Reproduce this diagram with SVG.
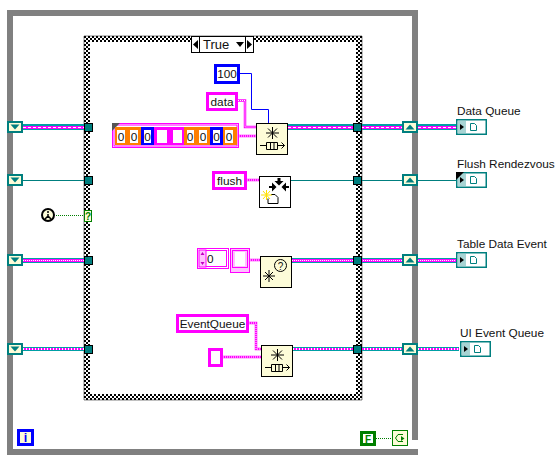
<svg xmlns="http://www.w3.org/2000/svg" width="557" height="465" viewBox="0 0 557 465">
<style>
text{font-family:"Liberation Sans",Arial,sans-serif;fill:#111}
.lab{font-size:11.8px}
.c{font-size:11.8px;text-anchor:middle}
.tc{fill:#007f7f}
.sr{fill:#fdfcd8}
.tri{fill:#007f7f}
.pc{fill:#fff;stroke:#ff00ff;stroke-width:3}
.blue{fill:#fff;stroke:#0000ff;stroke-width:3}
.node{fill:#fdfcd8;stroke:#000;stroke-width:1}
.ln{fill:none;stroke:#000;stroke-width:1}
.pd{fill:none;stroke:#ff00ff;stroke-width:2.5}
.pdw{fill:none;stroke:#fff;stroke-width:1;stroke-dasharray:1 1}
.ind{fill:#fff;stroke:#007f7f;stroke-width:1.5}
.wt{fill:none;stroke:#00a0a5}
.wp{fill:none;stroke:#ff00ff}
.ww{fill:none;stroke:#fff}
</style>
<defs>
<pattern id="chk" width="4" height="4" patternUnits="userSpaceOnUse">
<rect width="4" height="4" fill="#fff"/>
<rect width="2" height="2" fill="#000"/>
<rect x="2" y="2" width="2" height="2" fill="#000"/>
</pattern>
<g id="srin"><rect width="16" height="12" class="tc"/><rect x="2" y="2" width="12" height="8" class="sr"/><path d="M3.500 3.500h9l-4.500 5z" class="tri"/></g>
<g id="srout"><rect width="16" height="12" class="tc"/><rect x="2" y="2" width="12" height="8" class="sr"/><path d="M3.500 8.500h9l-4.500-5z" class="tri"/></g>
<g id="tun"><rect x="0.500" y="0.500" width="8" height="8" fill="#007f7f" stroke="#000"/></g>
<g id="ic"><rect x="0.750" y="0.750" width="29.500" height="14.500" class="ind"/><rect x="2" y="2" width="8" height="12" fill="#a8d4d4"/><path d="M4 5l4 3-4 3z" fill="#000"/><path d="M14.500 4.500h4l2 2v5h-6z" fill="#fff" stroke="#007f7f"/></g>
<g id="enq"><path d="M16.500 4v12M10 10h13M12 5.500l9 9M21 5.500l-9 9" stroke="#000" fill="none"/><path d="M4 22.500h6.500M10.500 19.500h11v7h-11zM14.500 19.500v7M18 19.500v7M21.500 22.500h7M25.500 19.500l3 3-3 3" class="ln"/></g>
</defs>

<g id="while-loop">
<path d="M10 13H418M10 10V452H418M415 10V440" fill="none" stroke="#808080" stroke-width="6"/>
<rect x="412" y="444" width="7" height="5" fill="#fff"/>
</g>
<g id="case-structure">
<path d="M87 39H359V397H87Z" fill="none" stroke="url(#chk)" stroke-width="6"/>
<path d="M84 36H362V400H84Z" fill="none" stroke="#000" stroke-width="0.500"/>
</g>
<g id="selector">
<rect x="191.500" y="36.500" width="62" height="16" fill="#fff" stroke="#000"/>
<path d="M199.500 36.500v16M245.500 36.500v16" stroke="#000"/>
<path d="M198 40v9l-5-4.500zM247 40v9l5-4.500zM236 42h8l-4 5z" fill="#000"/>
<text x="203" y="49" style="font-size:13px">True</text>
</g>

<g id="connectors">
<path d="M23 127H84M288 127H402M418 127H456" class="wt" stroke-width="6"/>
<path d="M23 127.500H84M288 127.500H353M361 127.500H402M418 127.500H456" class="wp" stroke-width="3"/>
<path d="M23 127.500H84M288 127.500H353M361 127.500H402M418 127.500H456" class="ww" stroke-width="1" stroke-dasharray="3 2"/>
<path d="M23 180.500H84M291 180.500H353M361 180.500H402M418 180.500H456" stroke="#007f7f" stroke-width="1" fill="none"/>
<path d="M23 260.500H84M292 260.500H353M361 260.500H402M418 260.500H456" class="wt" stroke-width="5"/>
<path d="M23 260.500H84M292 260.500H353M361 260.500H402M418 260.500H456" class="wp" stroke-width="3"/>
<path d="M23 260.500H84M292 260.500H353M361 260.500H402M418 260.500H456" class="ww" stroke-width="1" stroke-dasharray="1 1"/>
<path d="M23 349H84M293 349H353M361 349H402M418 349H459" class="wt" stroke-width="4"/>
<path d="M23 349H84M293 349H353M361 349H402M418 349H459" class="wp" stroke-width="2"/>
<path d="M23 349H84M293 349H353M361 349H402M418 349H459" class="ww" stroke-width="2" stroke-dasharray="1 2"/>
<path d="M239 73.500H251.500V109.500H268.500V123" stroke="#0000ff" fill="none"/>
<path d="M238 100.500H245V127H256" class="pd"/><path d="M238 100.500H245V127H256" class="pdw"/>
<path d="M239 136H256" class="pd"/><path d="M239 136H256" class="pdw"/>
<path d="M247 180H259" class="pd"/><path d="M247 180H259" class="pdw"/>
<path d="M250 260H260" class="pd"/><path d="M250 260H260" class="pdw"/>
<path d="M249 323H256V349H261" class="pd"/><path d="M249 323H256V349H261" class="pdw"/>
<path d="M223 357H261" class="pd"/><path d="M223 357H261" class="pdw"/>
<path d="M56 215.500H84M376 438.500H392" stroke="#007f00" stroke-dasharray="1 1" fill="none"/>
</g>

<g id="sr-left"><use href="#srin" x="7" y="121"/><use href="#srin" x="7" y="174"/><use href="#srin" x="7" y="254"/><use href="#srin" x="7" y="343"/></g>
<g id="sr-right"><use href="#srout" x="402" y="121"/><use href="#srout" x="402" y="174"/><use href="#srout" x="402" y="254"/><use href="#srout" x="402" y="343"/></g>
<g id="tunnels">
<use href="#tun" x="84" y="123"/><use href="#tun" x="84" y="176"/><use href="#tun" x="84" y="256"/><use href="#tun" x="84" y="345"/>
<use href="#tun" x="353" y="123"/><use href="#tun" x="353" y="176"/><use href="#tun" x="353" y="256"/><use href="#tun" x="353" y="345"/>
</g>

<g id="error-icon"><circle cx="48" cy="215" r="6" fill="#fdfcd8" stroke="#000" stroke-width="2"/><path d="M48 211v2M48 214v2M45 219l3-3 3 3" stroke="#000" stroke-width="1.500" fill="none"/></g>
<g id="selector-terminal"><rect x="84.500" y="210.500" width="7" height="11" fill="#fdfcd8" stroke="#007f00"/><text x="88" y="220" style="font-size:10px;text-anchor:middle;fill:#007f00;font-weight:bold">?</text></g>

<g id="const-100"><rect x="215.500" y="65.500" width="23" height="17" class="blue"/><text class="c" x="227" y="78">100</text></g>
<g id="const-data"><rect x="207.500" y="93.500" width="29" height="16" class="pc"/><text class="c" x="222" y="106">data</text></g>
<g id="array-const">
<rect x="112.500" y="123.500" width="126" height="24" fill="#fff" stroke="#ff00ff"/>
<rect x="114" y="125" width="123" height="21" fill="none" stroke="#ff00ff"/>
<path d="M112 123h8l-8 8z" fill="#555"/>
<rect x="115" y="127" width="26" height="18" fill="#ff7f00"/>
<rect x="141" y="127" width="13" height="18" fill="#0000ff"/>
<rect x="154" y="127" width="30" height="18" fill="#ff00ff"/>
<rect x="184" y="127" width="26" height="18" fill="#ff7f00"/>
<rect x="210" y="127" width="13" height="18" fill="#0000ff"/>
<rect x="223" y="127" width="14" height="18" fill="#ff7f00"/>
<g fill="#fff"><rect x="117" y="130" width="8" height="13"/><rect x="130" y="130" width="8" height="13"/><rect x="144" y="130" width="7" height="13"/><rect x="157" y="130" width="10" height="13"/><rect x="173" y="130" width="9" height="13"/><rect x="187" y="130" width="7" height="13"/><rect x="199" y="130" width="8" height="13"/><rect x="213" y="130" width="7" height="13"/><rect x="225" y="130" width="8" height="13"/></g>
<g class="array-text"><text class="c" x="121" y="141">0</text><text class="c" x="134" y="141">0</text><text class="c" x="147.500" y="141">0</text><text class="c" x="190" y="141">0</text><text class="c" x="203" y="141">0</text><text class="c" x="216.500" y="141">0</text><text class="c" x="229" y="141">0</text></g>
</g>
<g id="obtain-data"><rect x="256.500" y="123.500" width="31" height="31" class="node"/><use href="#enq" x="256" y="123"/></g>
<g id="const-flush"><rect x="213.500" y="172.500" width="32" height="16" class="pc"/><text class="c" x="229.500" y="185">flush</text></g>
<g id="flush-node"><rect x="259.500" y="176.500" width="31" height="31" fill="#fff" stroke="#000"/>
<path d="M277.500 178h3v3h3l-4.500 4.500-4.500-4.500h3zM269 186h3v-3.500l4.500 4.500-4.500 4.500V188h-3zM289 186h-3v-3.500l-4.500 4.500 4.500 4.500V188h3z" fill="#000"/>
<path d="M271 194.500h4l3 3v6h-10v-5" fill="#fff" stroke="#000"/>
<path d="M261 195h11M266.500 190v10M263 191l7 8M270 191l-7 8" stroke="#ffe000" fill="none"/></g>
<g id="numeric-cluster">
<rect x="197.500" y="248.500" width="31" height="20" fill="#fff" stroke="#ff00ff"/>
<rect x="199.500" y="250.500" width="27" height="16" fill="#fff" stroke="#ff00ff"/>
<rect x="199" y="250" width="7" height="17" fill="#ffc0ff" stroke="#ff00ff"/>
<path d="M202.500 252l-2 3h4zM202.500 265l-2-3h4z" fill="#c000c0"/>
<text x="207" y="263" style="font-size:11.800px">0</text>
<rect x="230.500" y="248.500" width="19" height="24" fill="#ffc0ff" stroke="#ff00ff"/>
<rect x="232.500" y="250.500" width="15" height="17" fill="none" stroke="#ff00ff"/>
<rect x="235" y="252" width="10" height="14" fill="#fff"/>
</g>
<g id="event-node"><rect x="260.500" y="256.500" width="31" height="31" class="node"/>
<circle cx="280.500" cy="265.500" r="6" fill="none" stroke="#000"/><text x="280.500" y="269.500" style="font-size:10px;text-anchor:middle">?</text>
<path d="M269 270v12M263 276h12M265 272l8 8M273 272l-8 8" stroke="#000" fill="none"/></g>
<g id="const-eventqueue"><rect x="177.500" y="315.500" width="70" height="16" class="pc"/><text class="c" x="212.500" y="328">EventQueue</text></g>
<g id="const-empty"><rect x="209.500" y="349.500" width="12" height="16" class="pc"/></g>
<g id="obtain-ui"><rect x="261.500" y="345.500" width="31" height="31" class="node"/><use href="#enq" x="261" y="345"/></g>

<g id="ind-data"><use href="#ic" x="456" y="119"/><text class="lab" x="457" y="115">Data Queue</text></g>
<g id="ind-flush"><use href="#ic" x="456" y="172"/><path d="M456 172h8l-8 8z" fill="#000"/><text class="lab" x="457" y="168">Flush Rendezvous</text></g>
<g id="ind-table"><use href="#ic" x="456" y="252"/><text class="lab" x="457" y="248">Table Data Event</text></g>
<g id="ind-ui"><use href="#ic" x="460" y="341"/><text class="lab" x="460" y="337">UI Event Queue</text></g>

<g id="iteration"><rect x="18.500" y="430.500" width="14" height="14" fill="#fdfcd8" stroke="#0000ff" stroke-width="3"/><text x="25.500" y="442" style="font-size:12.500px;text-anchor:middle;fill:#0000ff;font-weight:bold">i</text></g>
<g id="const-false"><rect x="361.500" y="432.500" width="13" height="12" fill="#fff" stroke="#007f00" stroke-width="3"/><text x="368" y="443" style="font-size:10px;text-anchor:middle;fill:#007f00;font-weight:bold">F</text></g>
<g id="loop-condition"><rect x="392.500" y="430.500" width="15" height="15" fill="#fdfcd8" stroke="#007f00"/><path d="M403 434.500h-5l-2.500 3.500 2.500 3.500h5" fill="none" stroke="#007f00"/><path d="M401 436v5l3.500-2.500z" fill="#007f00"/></g>
</svg>
